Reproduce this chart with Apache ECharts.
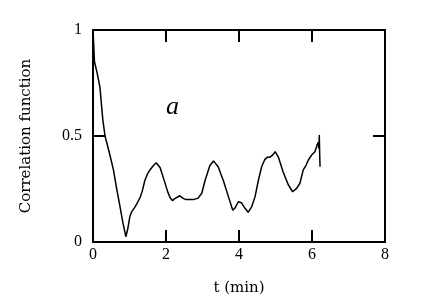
<!DOCTYPE html>
<html>
<head>
<meta charset="utf-8">
<script src="https://cdn.jsdelivr.net/npm/echarts@6/dist/echarts.min.js"></script>
<style>
html, body { margin: 0; padding: 0; background: #fff; }
#main { width: 436px; height: 307px; }
</style>
</head>
<body>
<div id="main"></div>
<script>
var tMin = [0, 0.02, 0.04, 0.11, 0.19, 0.27, 0.33, 0.45, 0.56, 0.65, 0.74, 0.82, 0.90, 0.95, 1.01, 1.06, 1.13, 1.2, 1.29, 1.35,
    1.42, 1.49, 1.56, 1.65, 1.73, 1.84, 1.97, 2.04, 2.11, 2.18, 2.24, 2.29, 2.38, 2.47, 2.55, 2.65, 2.75, 2.88, 2.98, 3.07,
    3.2, 3.30, 3.43, 3.57, 3.71, 3.83, 3.89, 3.98, 4.07, 4.16, 4.25, 4.35, 4.44, 4.53, 4.62, 4.71, 4.78, 4.85, 4.92, 4.99,
    5.08, 5.21, 5.35, 5.47, 5.58, 5.67, 5.76, 5.84, 5.90, 5.99, 6.08, 6.14, 6.17, 6.19, 6.20, 6.21, 6.22];
var corr = [1.0, 0.93, 0.85, 0.80, 0.73, 0.575, 0.50, 0.42, 0.34, 0.25, 0.167, 0.09, 0.025, 0.06, 0.12, 0.143, 0.16, 0.18, 0.21, 0.24,
    0.29, 0.32, 0.34, 0.36, 0.374, 0.35, 0.28, 0.24, 0.21, 0.195, 0.205, 0.214, 0.218, 0.206, 0.2, 0.2, 0.2, 0.207, 0.23, 0.29,
    0.36, 0.382, 0.355, 0.29, 0.214, 0.15, 0.16, 0.19, 0.185, 0.16, 0.14, 0.167, 0.214, 0.29, 0.355, 0.39, 0.40, 0.40, 0.41, 0.426,
    0.40, 0.33, 0.27, 0.237, 0.253, 0.277, 0.34, 0.363, 0.387, 0.41, 0.426, 0.458, 0.47, 0.44, 0.505, 0.42, 0.355];
var xTicks = [0, 2, 4, 6, 8];
var yTicks = [0, 0.5, 1];

var font = '"Liberation Serif", serif';
var nameFont = '"DejaVu Serif", serif';
var points = tMin.map(function (t, i) { return [t, corr[i]]; });

var myChart = echarts.init(document.getElementById('main'));

// shared look of the box axes, ticks pointing inward
var lineStyle = { color: '#000', width: 2 };
var tick = { show: true, inside: true, length: 12, lineStyle: { color: '#000', width: 2 } };

var option = {
    animation: false,
    grid: { left: 93, right: 51, top: 30, bottom: 65 },
    xAxis: [
        {
            type: 'value', min: xTicks[0], max: xTicks[xTicks.length - 1], interval: 2,
            name: 't (min)', nameLocation: 'middle', nameGap: 39,
            nameTextStyle: { fontFamily: nameFont, fontSize: 15, color: '#000' },
            axisLine: { onZero: false, lineStyle: lineStyle }, axisTick: tick,
            axisLabel: { fontFamily: font, fontSize: 16, color: '#000', margin: 5 },
            splitLine: { show: false }
        },
        {
            type: 'value', position: 'top', min: xTicks[0], max: xTicks[xTicks.length - 1], interval: 2,
            axisLine: { show: true, onZero: false, lineStyle: lineStyle }, axisTick: tick,
            axisLabel: { show: false }, splitLine: { show: false }
        }
    ],
    yAxis: [
        {
            type: 'value', min: yTicks[0], max: yTicks[yTicks.length - 1], interval: 0.5,
            name: 'Correlation function', nameLocation: 'middle', nameGap: 59,
            nameTextStyle: { fontFamily: nameFont, fontSize: 15, color: '#000' },
            axisLine: { show: true, onZero: false, lineStyle: lineStyle }, axisTick: tick,
            axisLabel: { fontFamily: font, fontSize: 16, color: '#000', margin: 11,
                formatter: function (v) { return String(v); } },
            splitLine: { show: false }
        },
        {
            type: 'value', position: 'right', min: yTicks[0], max: yTicks[yTicks.length - 1], interval: 0.5,
            axisLine: { show: true, onZero: false, lineStyle: lineStyle }, axisTick: tick,
            axisLabel: { show: false }, splitLine: { show: false }
        }
    ],
    graphic: [
        {
            type: 'text', left: 166, top: 94,
            style: { text: 'a', font: 'italic 26px ' + font, fill: '#000' }
        }
    ],
    series: [
        {
            type: 'line',
            data: points,
            symbol: 'none',
            lineStyle: { color: '#000', width: 1.5 }
        }
    ]
};
myChart.setOption(option);
</script>
</body>
</html>
